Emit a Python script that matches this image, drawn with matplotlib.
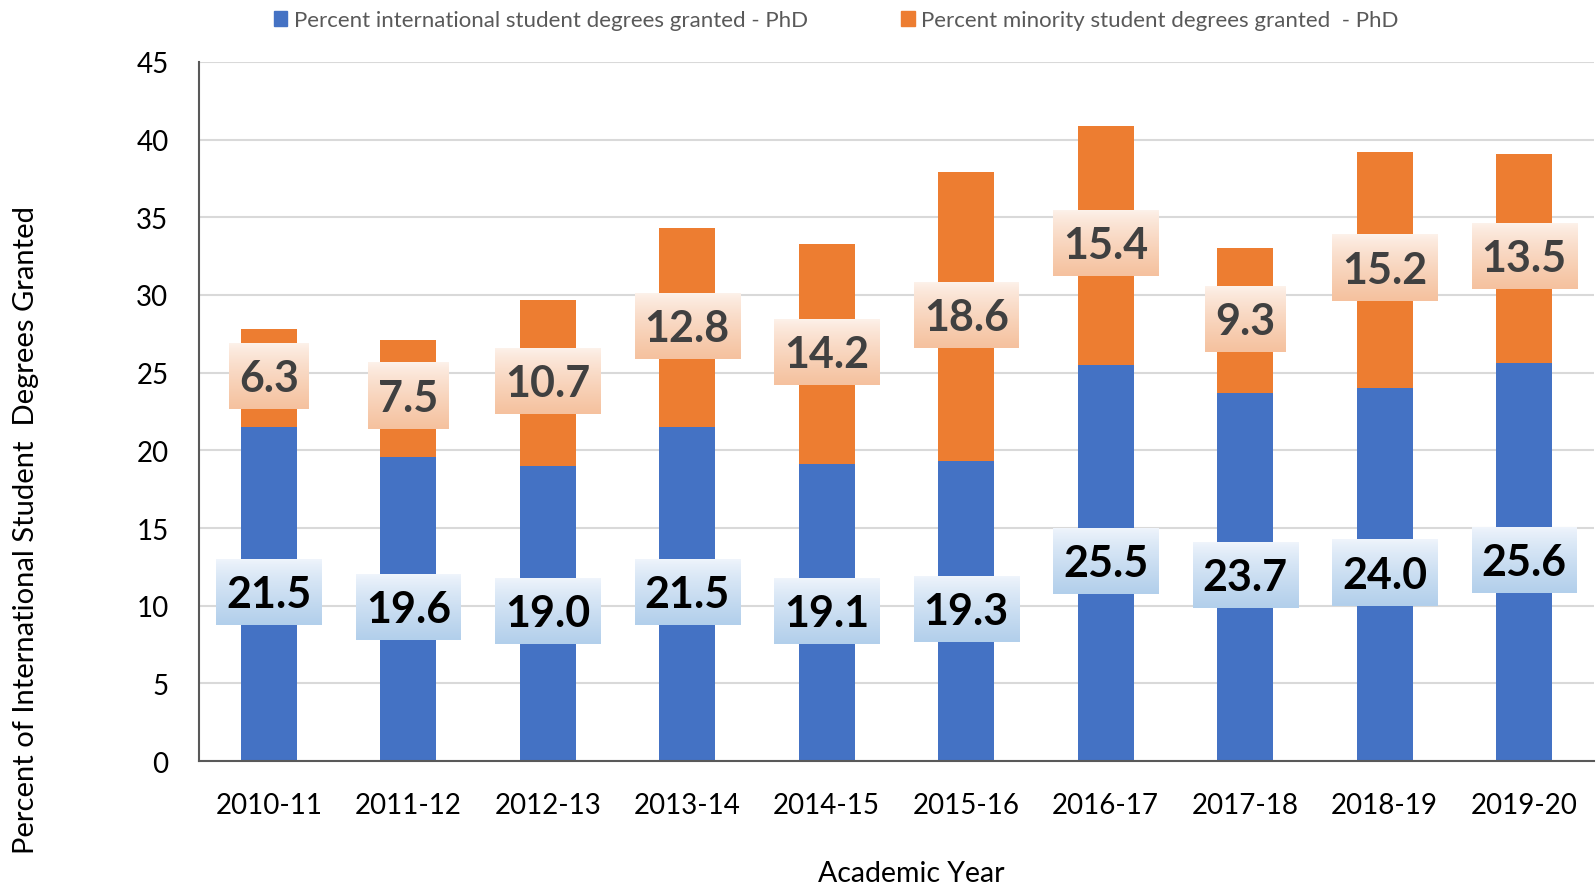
import matplotlib.pyplot as plt
import matplotlib.patches as mpatches
import numpy as np

# ----- data ----- #
years = ["2010-11", "2011-12", "2012-13", "2013-14", "2014-15",
         "2015-16", "2016-17", "2017-18", "2018-19", "2019-20"]
intl_pct = [21.5, 19.6, 19.0, 21.5, 19.1, 19.3, 25.5, 23.7, 24.0, 25.6]
minority_pct = [6.3, 7.5, 10.7, 12.8, 14.2, 18.6, 15.4, 9.3, 15.2, 13.5]

blue = "#4472c4"
orange = "#ed7d31"

plt.rcParams["font.family"] = ["Lato", "DejaVu Sans"]

fig = plt.figure(figsize=(15.96, 8.87), dpi=100)
ax = fig.add_axes([0.1247, 0.1409, 0.874, 0.7881])

x = np.arange(len(years))
ax.bar(x, intl_pct, width=0.4, color=blue, zorder=2)
ax.bar(x, minority_pct, width=0.4, bottom=intl_pct, color=orange, zorder=2)

ax.set_xlim(-0.5, 9.5)
ax.set_ylim(0, 45)
ax.set_yticks(range(0, 46, 5))
ax.set_xticks(x)
ax.set_xticklabels(years)
ax.tick_params(axis="both", length=0, labelsize=20, colors="black")
ax.tick_params(axis="x", pad=22)
ax.tick_params(axis="y", pad=22)
ax.grid(axis="y", color="#d9d9d9", linewidth=1.5, zorder=0)
ax.set_axisbelow(True)
for s in ["top", "right"]:
    ax.spines[s].set_visible(False)
for s in ["left", "bottom"]:
    ax.spines[s].set_color("#595959")
    ax.spines[s].set_linewidth(1.5)
    ax.spines[s].set_zorder(5)

# data labels with gradient boxes
texts = []
for i in range(len(years)):
    t1 = ax.text(i, intl_pct[i] / 2, f"{intl_pct[i]:.1f}", ha="center", va="center",
                 fontsize=31, fontweight="bold", color="black", zorder=5)
    t2 = ax.text(i, intl_pct[i] + minority_pct[i] / 2, f"{minority_pct[i]:.1f}",
                 ha="center", va="center", fontsize=31, fontweight="bold",
                 color="#404040", zorder=5)
    texts.append((t1, ["#f0f5fc", "#b2cfeb"]))
    texts.append((t2, ["#fdf2eb", "#f5c19e"]))

fig.canvas.draw()
renderer = fig.canvas.get_renderer()
inv = ax.transData.inverted()
for t, cols in texts:
    bb = t.get_window_extent(renderer)
    cx = (bb.x0 + bb.x1) / 2
    cy = (bb.y0 + bb.y1) / 2
    w = bb.width + 20
    h = 66
    (dx0, dy0) = inv.transform((cx - w / 2, cy - h / 2 + 2))
    (dx1, dy1) = inv.transform((cx + w / 2, cy + h / 2 + 2))
    c0 = np.array(plt.matplotlib.colors.to_rgb(cols[0]))
    c1 = np.array(plt.matplotlib.colors.to_rgb(cols[1]))
    f = np.linspace(0, 1, 100) ** 0.8
    grad = c0[None, :] * (1 - f[:, None]) + c1[None, :] * f[:, None]
    ax.imshow(grad[:, None, :], extent=[dx0, dx1, dy0, dy1], origin="upper",
              aspect="auto", zorder=4, interpolation="bilinear")

ax.set_xlim(-0.5, 9.5)
ax.set_ylim(0, 45)

# legend
handles = [mpatches.Patch(color=blue), mpatches.Patch(color=orange)]
labels = ["Percent international student degrees granted - PhD",
          "Percent minority student degrees granted  - PhD"]
fig.legend(handles, labels, loc="center", bbox_to_anchor=(0.524, 0.976), ncol=2,
           frameon=False, fontsize=16, labelcolor="#595959", handlelength=0.6,
           handleheight=0.6, handletextpad=0.3, columnspacing=4.2)

fig.text(0.016, 0.402, "Percent of International Student  Degrees Granted",
         rotation=90, ha="center", va="center", fontsize=21)
fig.text(0.571, 0.0147, "Academic Year", ha="center", va="center", fontsize=20.5)

fig.savefig("out.png", dpi=100)
